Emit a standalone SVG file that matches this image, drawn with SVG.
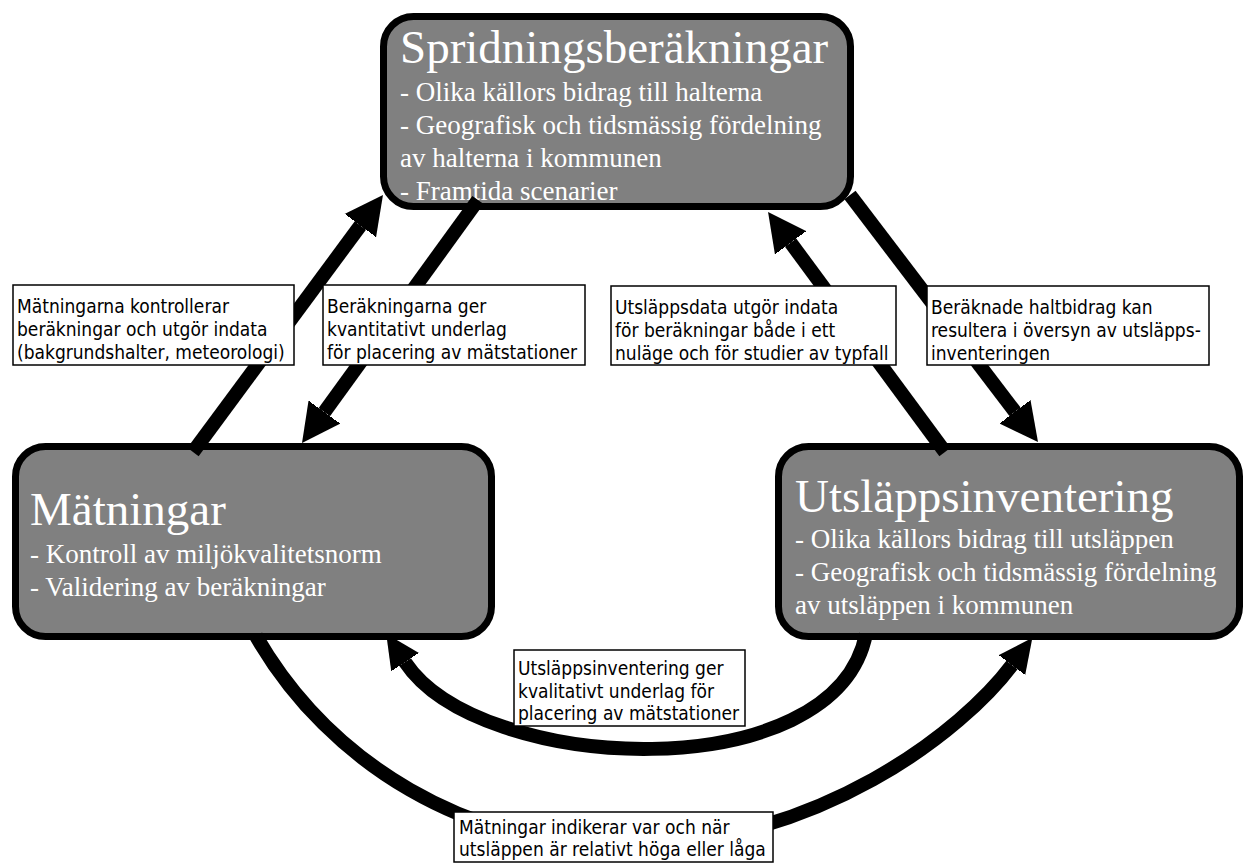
<svg xmlns="http://www.w3.org/2000/svg" width="1247" height="863" viewBox="0 0 1247 863">
<defs>
<style>
.node rect{fill:#808080;stroke:#000;stroke-width:7}
.title{font-family:'Liberation Serif','Times New Roman',serif;font-size:47px;fill:#fff}
.sub{font-family:'Liberation Serif','Times New Roman',serif;font-size:27px;fill:#fff}
.conn{fill:none;stroke:#000;stroke-width:14}
.lbl rect{fill:#fff;stroke:#000;stroke-width:1.5}
.lbl text{font-family:'DejaVu Sans Condensed','DejaVu Sans',sans-serif;font-stretch:condensed;font-size:19px;fill:#000}
</style>
<marker id="ah" markerUnits="userSpaceOnUse" viewBox="0 -20 38 40" markerWidth="38" markerHeight="40" refX="0" refY="0" orient="auto"><path d="M-1,-20 L38,0 L-1,20 z" fill="#000"/></marker>
<marker id="ahs" markerUnits="userSpaceOnUse" viewBox="0 -17 34 34" markerWidth="34" markerHeight="34" refX="0" refY="0" orient="auto"><path d="M-1,-17 L34,0 L-1,17 z" fill="#000"/></marker>
</defs>
<rect width="1247" height="863" fill="#fff"/>

<g id="node-spridning" class="node">
<rect x="383.5" y="16.5" width="467" height="190" rx="30" ry="30"/>
<text class="title" x="400" y="63">Spridningsberäkningar</text>
<text class="sub" x="400" y="101">- Olika källors bidrag till halterna</text>
<text class="sub" x="400" y="134">- Geografisk och tidsmässig fördelning</text>
<text class="sub" x="400" y="167">av halterna i kommunen</text>
<text class="sub" x="400" y="200">- Framtida scenarier</text>
</g>

<g id="node-matningar" class="node">
<rect x="15.5" y="446.5" width="476" height="190" rx="30" ry="30"/>
<text class="title" x="30" y="525">Mätningar</text>
<text class="sub" x="30" y="563">- Kontroll av miljökvalitetsnorm</text>
<text class="sub" x="30" y="596">- Validering av beräkningar</text>
</g>

<g id="node-utslapp" class="node">
<rect x="778.5" y="446.5" width="461" height="190" rx="30" ry="30"/>
<text class="title" x="795" y="512">Utsläppsinventering</text>
<text class="sub" x="795" y="548">- Olika källors bidrag till utsläppen</text>
<text class="sub" x="795" y="581">- Geografisk och tidsmässig fördelning</text>
<text class="sub" x="795" y="614">av utsläppen i kommunen</text>
</g>

<g id="connectors">
<line class="conn" x1="193" y1="452" x2="360.4" y2="225.5" marker-end="url(#ah)"/>
<line class="conn" x1="478" y1="200" x2="324.3" y2="412.2" marker-end="url(#ah)"/>
<line class="conn" x1="945" y1="452" x2="790.6" y2="242.6" marker-end="url(#ah)"/>
<line class="conn" x1="850" y1="195" x2="1015" y2="411.8" marker-end="url(#ah)"/>
<path class="conn" d="M866,634 C835,790 480,775 405,662" marker-end="url(#ahs)"/>
<path class="conn" d="M256,636 C331,766 470,846 620,846 C820,846 964,729 1012,665" marker-end="url(#ahs)"/>
</g>

<g id="labels" class="lbl">
<g id="label-1">
<rect x="13" y="285" width="281" height="80"/>
<text x="17" y="313">Mätningarna kontrollerar</text>
<text x="17" y="336">beräkningar och utgör indata</text>
<text x="17" y="359">(bakgrundshalter, meteorologi)</text>
</g>
<g id="label-2">
<rect x="323" y="285" width="262" height="80"/>
<text x="327" y="313">Beräkningarna ger</text>
<text x="327" y="336">kvantitativt underlag</text>
<text x="327" y="359">för placering av mätstationer</text>
</g>
<g id="label-3">
<rect x="611" y="286" width="285" height="79"/>
<text x="615" y="314">Utsläppsdata utgör indata</text>
<text x="615" y="337">för beräkningar både i ett</text>
<text x="615" y="360">nuläge och för studier av typfall</text>
</g>
<g id="label-4">
<rect x="927" y="286" width="282" height="79"/>
<text x="931" y="314">Beräknade haltbidrag kan</text>
<text x="931" y="337">resultera i översyn av utsläpps-</text>
<text x="931" y="360">inventeringen</text>
</g>
<g id="label-5">
<rect x="514" y="650" width="231" height="76"/>
<text x="518" y="675">Utsläppsinventering ger</text>
<text x="518" y="698">kvalitativt underlag för</text>
<text x="518" y="720">placering av mätstationer</text>
</g>
<g id="label-6">
<rect x="454" y="812" width="319" height="50"/>
<text x="459" y="834">Mätningar indikerar var och när</text>
<text x="459" y="856">utsläppen är relativt höga eller låga</text>
</g>
</g>
</svg>
